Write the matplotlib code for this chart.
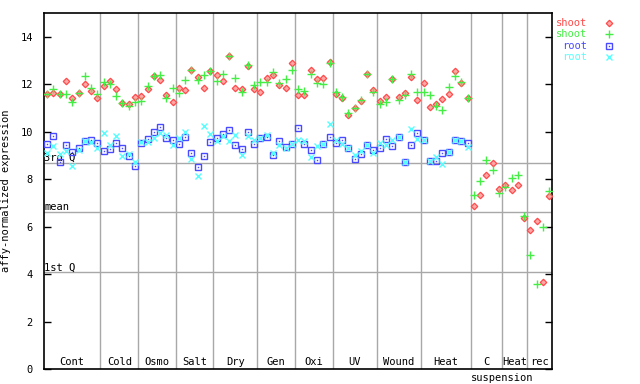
import numpy as np
import matplotlib
matplotlib.use("Agg")
import matplotlib.pyplot as plt
from matplotlib.transforms import blended_transform_factory

# ---- data ----
groups = ['Cont', 'Cold', 'Osmo', 'Salt', 'Dry', 'Gen', 'Oxi', 'UV', 'Wound',
          'Heat', 'C', 'Heat', 'rec']
group_sizes = [9, 6, 6, 6, 7, 6, 6, 7, 7, 8, 5, 4, 4]

shoot_a = [11.58, 11.63, 11.6, 12.13, 11.44, 11.63, 12.03, 11.73, 11.41,
           11.94, 12.13, 11.82, 11.21, 11.18, 11.48,
           11.5, 11.82, 12.37, 12.2, 11.54, 11.24,
           11.85, 11.75, 12.63, 12.3, 11.86, 12.55,
           12.41, 12.15, 13.2, 11.86, 11.82, 12.77, 11.82,
           11.69, 12.28, 12.41, 11.99, 11.86, 12.89,
           11.54, 11.56, 12.59, 12.21, 12.28, 12.94,
           11.61, 11.44, 10.72, 10.99, 11.32, 12.42, 11.76,
           11.32, 11.48, 12.21, 11.48, 11.65, 12.32, 11.35,
           12.07, 11.06, 11.18, 11.39, 11.58, 12.55, 12.07, 11.44,
           6.87, 7.34, 8.18, 8.69, 7.61,
           7.76, 7.55, 7.77, 6.38,
           5.86, 6.25, 3.66, 7.3]
shoot_b = [11.6, 11.82, 11.58, 11.6, 11.24, 11.63, 12.37, 11.87, 11.58,
           12.1, 12.03, 11.52, 11.21, 11.08, 11.24,
           11.32, 11.94, 12.37, 12.41, 11.41, 11.86,
           11.65, 12.17, 12.63, 12.2, 12.41, 12.55,
           12.14, 12.45, 13.2, 12.28, 11.69, 12.8, 11.96,
           12.11, 12.11, 12.54, 12.07, 12.24, 12.62,
           11.82, 11.72, 12.45, 12.07, 12.03, 12.92,
           11.69, 11.48, 10.8, 11.01, 11.35, 12.42, 11.69,
           11.18, 11.24, 12.24, 11.35, 11.54, 12.45, 11.69,
           11.69, 11.54, 11.08, 10.93, 11.9, 12.35, 12.11, 11.44,
           7.34, 7.93, 8.82, 8.38, 7.42,
           7.68, 8.06, 8.18, 6.46,
           4.8, 3.58, 5.99, 7.5]
nan = float('nan')
root_a = [9.49, 9.83, 8.73, 9.45, 9.13, 9.32, 9.63, 9.66, 9.54,
          9.2, 9.28, 9.54, 9.32, 8.99, 8.56,
          9.54, 9.7, 10.0, 10.21, 9.76, 9.66,
          9.49, 9.8, 9.11, 8.52, 8.99, 9.58,
          9.76, 9.92, 10.08, 9.45, 9.28, 10.0, 9.49,
          9.76, 9.79, 9.03, 9.62, 9.37, 9.49,
          10.17, 9.49, 9.24, 8.82, 9.49, 9.79,
          9.54, 9.66, 9.32, 8.86, 9.07, 9.45, 9.25,
          9.32, 9.68, 9.42, 9.79, 8.73, 9.45, 9.96,
          9.65, 8.76, 8.79, 9.11, 9.14, 9.65, 9.63, 9.51] + [nan] * 13
root_b = [9.11, 9.42, 9.08, 9.2, 8.58, 9.22, 9.63, 9.58, 9.32,
          9.96, 9.45, 9.83, 8.97, 9.08, 8.73,
          9.58, 9.58, 9.75, 9.96, 9.87, 9.45,
          9.75, 10.0, 8.86, 8.14, 10.25, 9.92,
          9.62, 9.83, 9.62, 9.87, 9.03, 9.83, 9.64,
          9.75, 9.87, 9.11, 9.45, 9.32, 9.49,
          9.66, 9.62, 8.94, 9.41, 9.49, 10.34,
          9.66, 9.49, 9.32, 9.03, 9.21, 9.45, 9.11,
          9.51, 9.45, 9.65, 9.79, 8.73, 10.1, 9.72,
          9.65, 8.76, 8.93, 8.65, 9.14, 9.65, 9.63, 9.35] + [nan] * 13

q3_val, mean_val, q1_val = 8.69, 6.62, 4.08
yticks = [0, 2, 4, 6, 8, 10, 12, 14]

# ---- figure ----
FONT = 'DejaVu Sans Mono'
fig = plt.figure(figsize=(6.4, 3.84), dpi=100)
L, R, B, T = 44 / 640, 552.3 / 640, 1 - 369 / 384, 1 - 13.3 / 384
ax = fig.add_axes([L, B, R - L, T - B])

n = len(shoot_a)
x = np.arange(n)
ax.set_xlim(-0.5, n - 0.5)
ax.set_ylim(0, 15)

grid_c = '#a8a8a8'
edges = np.cumsum(group_sizes)
for e in edges[:-1]:
    ax.axvline(e - 0.5, color=grid_c, lw=1, zorder=1)
for v, lab in [(q3_val, '3rd Q'), (mean_val, 'mean'), (q1_val, '1st Q')]:
    ax.axhline(v, color=grid_c, lw=1, zorder=1)
    ax.text(-0.45, v, lab, fontsize=7.5, family=FONT, ha='left', va='bottom', zorder=2)

red, green, blue, cyan = '#ff4a4a', '#44ee44', '#4a4aff', '#55ffff'
dkw = dict(marker='D', ms=3.3, mfc='#ffa8a8', mec=red, mew=0.9)
pkw = dict(marker='+', ms=6, mec=green, mew=1.0)
skw = dict(marker='s', ms=4.3, mfc='none', mec=blue, mew=1.0)
dotkw = dict(marker='s', ms=1.0, mfc=blue, mec=blue, mew=0)
xkw = dict(marker='x', ms=4.5, mec=cyan, mew=1.0)

ax.plot(x, shoot_a, ls='none', zorder=3, **dkw)
ax.plot(x, shoot_b, ls='none', zorder=4, **pkw)
ax.plot(x, root_a, ls='none', zorder=3, **skw)
ax.plot(x, root_a, ls='none', zorder=3, **dotkw)
ax.plot(x, root_b, ls='none', zorder=4, **xkw)

# group labels
tr = blended_transform_factory(ax.transData, ax.transAxes)
start = 0
centers = []
for g, s in zip(groups, group_sizes):
    c = start + (s - 1) / 2
    centers.append(c)
    ax.text(c, 0.006, g, transform=tr, fontsize=7.5, family=FONT, ha='center', va='bottom')
    start += s
ax.text((centers[10] + centers[11]) / 2 + 0.3, -0.012, 'suspension', transform=tr,
        fontsize=7.5, family=FONT, ha='center', va='top')

# axes styling
ax.set_xticks([])
ax.set_yticks(yticks)
ax.set_yticklabels([str(v) for v in yticks], family=FONT, fontsize=7.5)
ax.tick_params(axis='y', direction='in', length=5, width=1, pad=8,
               left=True, right=True, labelright=False)
for sp in ax.spines.values():
    sp.set_linewidth(1.2)
    sp.set_color('black')
ax.set_ylabel('affy-normalized expression', family=FONT, fontsize=7.5, labelpad=7)

# legend (manual)
leg = [('shoot', red, dkw), ('shoot', green, pkw), ('root', blue, skw), ('root', cyan, xkw)]
ys = [23.3, 34.3, 45.7, 56.7]
for (lab, col, kw), yp in zip(leg, ys):
    fy = 1 - yp / 384
    fig.text(587 / 640, fy, lab, color=col, family=FONT, fontsize=7.5, ha='right', va='center')
    fig.add_artist(plt.Line2D([609 / 640], [fy], ls='none', transform=fig.transFigure,
                              clip_on=False, **kw))
    if kw is skw:
        fig.add_artist(plt.Line2D([609 / 640], [fy], ls='none', transform=fig.transFigure,
                                  clip_on=False, **dotkw))

fig.savefig('out.png', dpi=100)
